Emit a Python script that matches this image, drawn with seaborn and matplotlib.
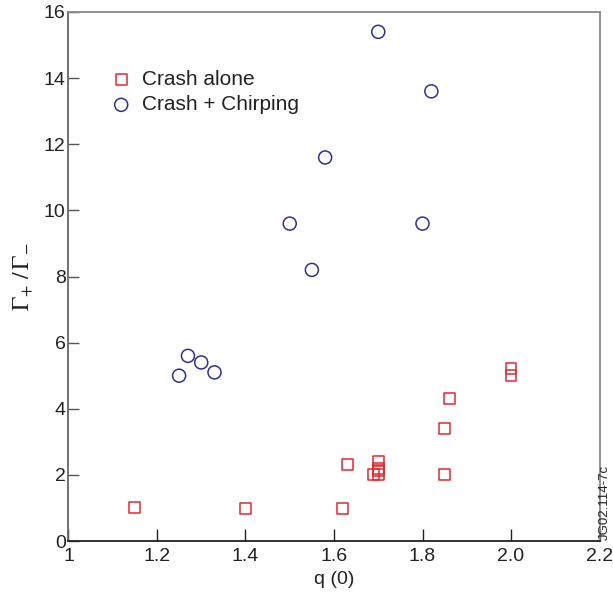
import matplotlib
matplotlib.use("Agg")
import matplotlib.pyplot as plt
import seaborn as sns
import pandas as pd

# Data
crash_q = [1.15, 1.40, 1.62, 1.63, 1.69, 1.70, 1.70, 1.70, 1.70, 1.85, 1.85, 1.86, 2.00, 2.00]
crash_g = [1.0, 0.98, 0.98, 2.3, 2.0, 2.0, 2.12, 2.2, 2.42, 2.0, 3.4, 4.3, 5.0, 5.22]
chirp_q = [1.25, 1.27, 1.30, 1.33, 1.50, 1.55, 1.58, 1.70, 1.80, 1.82]
chirp_g = [5.0, 5.6, 5.4, 5.1, 9.6, 8.2, 11.6, 15.4, 9.6, 13.6]
x_ticks = [1.0, 1.2, 1.4, 1.6, 1.8, 2.0, 2.2]
x_tick_labels = ["1", "1.2", "1.4", "1.6", "1.8", "2.0", "2.2"]
y_ticks = [0, 2, 4, 6, 8, 10, 12, 14, 16]
series_names = ["Crash alone", "Crash + Chirping"]

df = pd.DataFrame({
    "q": crash_q + chirp_q,
    "g": crash_g + chirp_g,
    "type": [series_names[0]] * len(crash_q) + [series_names[1]] * len(chirp_q),
})

sns.set_theme(style="white")
plt.rcParams["font.family"] = ["Liberation Sans", "DejaVu Sans"]
plt.rcParams["mathtext.fontset"] = "stix"

RED = "#e8262e"
BLUE = "#2e3192"

fig = plt.figure(figsize=(6.13, 5.97), dpi=100)
ax = fig.add_axes([0.1117, 0.0938, 0.8663, 0.8861])

sub1 = df[df["type"] == series_names[0]]
sub2 = df[df["type"] == series_names[1]]
sns.scatterplot(data=sub1, x="q", y="g", marker="s", s=62, facecolor="none",
                edgecolor=RED, linewidth=1.1, label=series_names[0], ax=ax)
sns.scatterplot(data=sub2, x="q", y="g", marker="o", s=88, facecolor="none",
                edgecolor=BLUE, linewidth=1.1, label=series_names[1], ax=ax)

ax.set_xlim(1.0, 2.2)
ax.set_ylim(0, 16)
ax.set_xticks(x_ticks)
ax.set_xticklabels(x_tick_labels)
ax.set_yticks(y_ticks)
ax.set_yticklabels([str(v) for v in y_ticks])
ax.tick_params(axis="x", direction="in", length=9, width=1.0, color="#222222",
               labelsize=14, pad=5, labelcolor="#222222")
ax.tick_params(axis="y", direction="in", length=8, width=1.0, color="#555555",
               labelsize=14, pad=2, labelcolor="#222222")
ax.tick_params(axis="both", which="both", bottom=True, left=True, top=False, right=False)

for side in ["top", "right"]:
    ax.spines[side].set_color("#888888")
    ax.spines[side].set_linewidth(1.3)
ax.spines["left"].set_color("#666666")
ax.spines["left"].set_linewidth(1.3)
ax.spines["bottom"].set_color("#222222")
ax.spines["bottom"].set_linewidth(1.3)

ax.set_xlabel("q (0)", fontsize=14, color="#222222", labelpad=4)
ax.set_ylabel(r"$\Gamma_{\!+}\,/\,\Gamma_{\!-}$", fontsize=17, color="#222222", labelpad=6)

leg = ax.legend(loc="upper left", bbox_to_anchor=(0.062, 0.906), frameon=False,
                fontsize=15, handletextpad=0.45, labelspacing=0.3, borderaxespad=0,
                handlelength=1.1, labelcolor="#222222")

fig.text(0.987, 0.095, "JG02.114-7c", rotation=90, fontsize=9.5, color="#222222",
         ha="center", va="bottom")

fig.savefig("out.png", dpi=100)
